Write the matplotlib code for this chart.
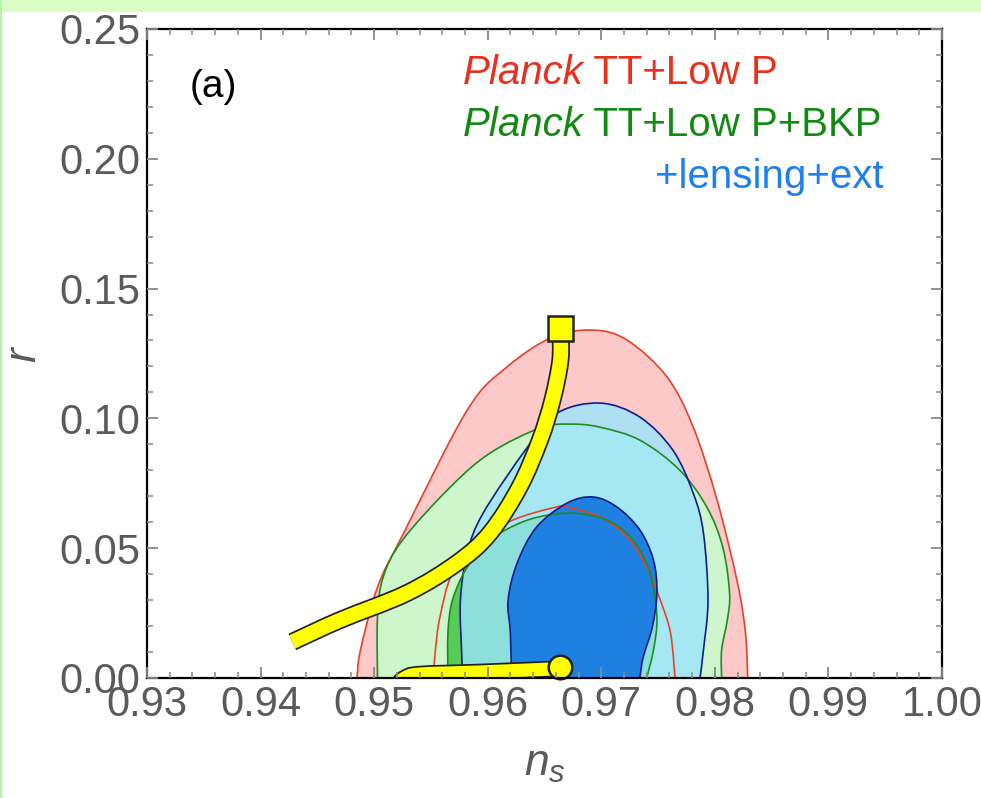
import matplotlib
matplotlib.use("Agg")
import matplotlib.pyplot as plt
import matplotlib.patheffects as pe
from matplotlib.patches import PathPatch, Rectangle
from matplotlib.path import Path
from matplotlib.ticker import MultipleLocator

plt.rcParams["font.family"] = ["Liberation Sans", "DejaVu Sans"]
plt.rcParams["mathtext.fontset"] = "custom"
plt.rcParams["mathtext.it"] = "Liberation Sans:italic"
plt.rcParams["mathtext.rm"] = "Liberation Sans"

# contour outlines (n_s, r)
red95_ns = [0.9485, 0.9488, 0.9503, 0.9526, 0.9582, 0.9617, 0.9657, 0.9693,
            0.9723, 0.9758, 0.9781, 0.9802, 0.9820, 0.9827, 0.9829]
red95_r = [0.000, 0.0108, 0.0350, 0.0558, 0.1032, 0.1198, 0.1313, 0.1340,
           0.1301, 0.1159, 0.0966, 0.0685, 0.0366, 0.0173, 0.000]

green95_ns = [0.9503, 0.9503, 0.9508, 0.9525, 0.9567, 0.9602, 0.9646, 0.9672,
              0.9699, 0.9734, 0.9769, 0.9793, 0.9807, 0.9813, 0.9811, 0.9806, 0.9806]
green95_r = [0.000, 0.0235, 0.0389, 0.0531, 0.0735, 0.0866, 0.0963, 0.0978,
             0.0966, 0.0916, 0.0801, 0.0658, 0.0504, 0.0327, 0.0223, 0.0108, 0.000]

blue95_ns = [0.9578, 0.9577, 0.9576, 0.9582, 0.9596, 0.9635, 0.9661, 0.9699,
             0.9734, 0.9763, 0.9781, 0.9790, 0.9794, 0.9790, 0.9787]
blue95_r = [0.000, 0.0108, 0.0300, 0.0481, 0.0635, 0.0889, 0.1020, 0.1059,
            0.1005, 0.0878, 0.0712, 0.0558, 0.0300, 0.0108, 0.000]

red68_ns = [0.9552, 0.9554, 0.9558, 0.9569, 0.9593, 0.9622, 0.9657, 0.9670,
            0.9699, 0.9723, 0.9740, 0.9752, 0.9761, 0.9765]
red68_r = [0.000, 0.0108, 0.0235, 0.0404, 0.0531, 0.0608, 0.0655, 0.0658,
           0.0620, 0.0543, 0.0427, 0.0300, 0.0173, 0.000]

green68_ns = [0.9565, 0.9565, 0.9569, 0.9582, 0.9602, 0.9635, 0.9672, 0.9705,
              0.9728, 0.9743, 0.9749, 0.9746, 0.9740]
green68_r = [0.000, 0.0173, 0.0300, 0.0427, 0.0531, 0.0608, 0.0635, 0.0608,
             0.0531, 0.0404, 0.0235, 0.0108, 0.000]

blue68_ns = [0.9621, 0.9620, 0.9618, 0.9626, 0.9643, 0.9670, 0.9693, 0.9714,
             0.9734, 0.9746, 0.9749, 0.9745, 0.9737, 0.9734]
blue68_r = [0.000, 0.0173, 0.0300, 0.0443, 0.0581, 0.0674, 0.0697, 0.0658,
            0.0570, 0.0454, 0.0327, 0.0196, 0.0081, 0.000]

# model predictions (yellow bands)
upper_ns = [0.9428, 0.9470, 0.9529, 0.9573, 0.9602, 0.9628, 0.9646, 0.9657, 0.9664, 0.9664]
upper_r = [0.0139, 0.0223, 0.0327, 0.0443, 0.0558, 0.0735, 0.0916, 0.1070, 0.1224, 0.1340]
lower_ns = [0.9521, 0.9527, 0.9540, 0.9593, 0.9659]
lower_r = [-0.0023, 0.0000, 0.0015, 0.0023, 0.0035]
square_pt = (0.9664, 0.1350)
circle_pt = (0.9664, 0.0042)


def smooth(xs, ys, close=False):
    # Catmull-Rom through the read points, as cubic Bezier segments
    pts = list(zip(xs, ys))
    n = len(pts)
    verts = [pts[0]]
    codes = [Path.MOVETO]
    for i in range(n - 1):
        p0 = pts[i - 1] if i > 0 else pts[i]
        p1, p2 = pts[i], pts[i + 1]
        p3 = pts[i + 2] if i + 2 < n else pts[i + 1]
        c1 = (p1[0] + (p2[0] - p0[0]) / 6, p1[1] + (p2[1] - p0[1]) / 6)
        c2 = (p2[0] - (p3[0] - p1[0]) / 6, p2[1] - (p3[1] - p1[1]) / 6)
        verts += [c1, c2, p2]
        codes += [Path.CURVE4] * 3
    if close:
        verts.append(pts[0])
        codes.append(Path.CLOSEPOLY)
    return Path(verts, codes)


fig = plt.figure(figsize=(9.81, 7.98), dpi=100)
fig.patches.append(Rectangle((0, 0.985), 1, 0.015, transform=fig.transFigure,
                             facecolor="#dafcc6", edgecolor="none"))
fig.patches.append(Rectangle((0, 0), 0.002, 1, transform=fig.transFigure,
                             facecolor="#b4f4a8", edgecolor="none"))
ax = fig.add_axes([0.1498, 0.1504, 0.8104, 0.8133])

red_line = "#e8402a"
green_line = "#1e8c1e"
navy_line = "#101c8c"

# fills
fills = [
    (red95_ns, red95_r, "#fcc8c8", 1.0),
    (green95_ns, green95_r, "#cdf6cd", 1.0),
    (green68_ns, green68_r, "#55cc55", 1.0),
    (blue95_ns, blue95_r, "#9be5fe", 0.8),
    (blue68_ns, blue68_r, "#1e80e0", 1.0),
]
for i, (xs, ys, fc, a) in enumerate(fills):
    ax.add_patch(PathPatch(smooth(xs, ys, close=True), facecolor=fc, alpha=a,
                           edgecolor="none", zorder=1 + 0.1 * i))

# outlines on top
for xs, ys, c in [(red95_ns, red95_r, red_line), (green95_ns, green95_r, green_line),
                  (blue95_ns, blue95_r, navy_line), (red68_ns, red68_r, red_line),
                  (green68_ns, green68_r, green_line), (blue68_ns, blue68_r, navy_line)]:
    ax.add_patch(PathPatch(smooth(xs, ys), facecolor="none", edgecolor=c, lw=1.2, zorder=1.6))

ax.add_patch(PathPatch(smooth(upper_ns, upper_r), facecolor="none", edgecolor="#ffff00",
                       lw=10.5, capstyle="butt", zorder=3,
                       path_effects=[pe.Stroke(linewidth=13, foreground="#222222"), pe.Normal()]))
ax.add_patch(PathPatch(smooth(lower_ns, lower_r), facecolor="none", edgecolor="#ffff00",
                       lw=9.5, capstyle="butt", zorder=3,
                       path_effects=[pe.Stroke(linewidth=12, foreground="#222222"), pe.Normal()]))
ax.plot(*square_pt, marker="s", markersize=18, color="#ffff00", markeredgecolor="#222222",
        markeredgewidth=1.8, zorder=4)
ax.plot(*circle_pt, marker="o", markersize=17, color="#ffff00", markeredgecolor="#222222",
        markeredgewidth=1.8, zorder=4, clip_on=False)

ax.set_xlim(0.93, 1.00)
ax.set_ylim(0.0, 0.25)
ax.xaxis.set_major_locator(MultipleLocator(0.01))
ax.xaxis.set_minor_locator(MultipleLocator(0.002))
ax.yaxis.set_major_locator(MultipleLocator(0.05))
ax.yaxis.set_minor_locator(MultipleLocator(0.01))
ax.xaxis.set_major_formatter(plt.FormatStrFormatter("%.2f"))
ax.yaxis.set_major_formatter(plt.FormatStrFormatter("%.2f"))
ax.tick_params(which="both", direction="in", top=True, right=True, color="#888888",
               labelcolor="#5a5a5a", labelsize=30)
ax.tick_params(which="major", length=8, width=1.3, pad=5)
ax.tick_params(which="minor", length=4.5, width=1.1)
ax.tick_params(axis="y", which="major", pad=5)
for s in ax.spines.values():
    s.set_linewidth(1.6)
    s.set_color("black")
    s.set_zorder(10)
ax.xaxis.set_zorder(11)
ax.yaxis.set_zorder(11)

ax.set_xlabel("$n_s$", fontsize=32, color="#5a5a5a", labelpad=14)
ax.set_ylabel("$r$", fontsize=32, color="#5a5a5a", labelpad=10)

ax.text(0.054, 0.911, "(a)", transform=ax.transAxes, fontsize=28, color="black",
        va="center", ha="left")

t1 = ax.text(0.397, 0.903, "Planck", transform=ax.transAxes, fontsize=29,
             color="#e8301c", style="italic", va="bottom", ha="left")
ax.annotate(" TT+Low P", xy=(1, 0), xycoords=t1, fontsize=29, color="#e8301c",
            va="bottom", ha="left")
t2 = ax.text(0.397, 0.823, "Planck", transform=ax.transAxes, fontsize=29,
             color="#128a12", style="italic", va="bottom", ha="left")
ax.annotate(" TT+Low P+BKP", xy=(1, 0), xycoords=t2, fontsize=29, color="#128a12",
            va="bottom", ha="left")
ax.text(0.927, 0.743, "+lensing+ext", transform=ax.transAxes, fontsize=29,
        color="#1e80f0", va="bottom", ha="right")

fig.savefig("out.png", dpi=100)
